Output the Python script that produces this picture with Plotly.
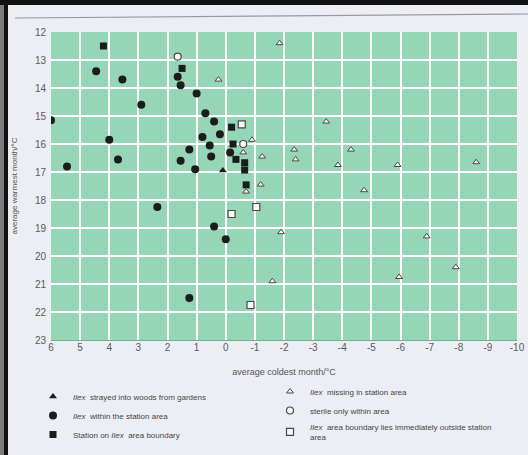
import plotly.graph_objects as go

# ---- data ----
strayed_x = [0.1]
strayed_y = [16.95]

within_x = [4.45, 3.55, 6.0, 2.9, 4.0, 5.45, 3.7, 1.65, 1.55, 1.0, 0.7, 0.4,
            0.2, 0.8, 0.55, 1.25, 0.5, -0.15, 1.55, 1.05, 2.35, 0.4, 0.0, 1.25]
within_y = [13.4, 13.7, 15.15, 14.6, 15.85, 16.8, 16.55, 13.6, 13.9, 14.2, 14.9, 15.2,
            15.65, 15.75, 16.05, 16.2, 16.45, 16.3, 16.6, 16.9, 18.25, 18.95, 19.4, 21.5]

boundary_x = [4.2, 1.5, -0.2, -0.25, -0.35, -0.65, -0.65, -0.7]
boundary_y = [12.5, 13.3, 15.4, 16.0, 16.55, 16.67, 16.93, 17.46]

missing_x = [0.25, -0.9, -1.25, -0.6, -0.7, -1.85, -3.45, -2.35, -2.4, -4.3,
             -3.85, -5.9, -8.6, -1.2, -4.75, -1.9, -6.9, -7.9, -5.95, -1.6]
missing_y = [13.7, 15.85, 16.45, 16.3, 17.7, 12.4, 15.2, 16.2, 16.55, 16.2,
             16.75, 16.75, 16.65, 17.45, 17.65, 19.15, 19.3, 20.4, 20.75, 20.9]

sterile_x = [1.65, -0.6]
sterile_y = [12.88, 16.0]

outside_x = [-0.55, -0.2, -1.05, -0.85]
outside_y = [15.3, 18.5, 18.25, 21.75]

x_ticks = list(range(6, -11, -1))
y_ticks = list(range(12, 24))

FONT = "Liberation Sans, Arial, sans-serif"
DARK = "#1c1c1c"
OUTL = "#4a4a4a"

fig = go.Figure()

# left legend column
fig.add_trace(go.Scatter(x=strayed_x, y=strayed_y, mode="markers",
                         name="<i>Ilex</i>  strayed into woods from gardens",
                         marker=dict(symbol="triangle-up", size=7, color=DARK),
                         legend="legend"))
fig.add_trace(go.Scatter(x=within_x, y=within_y, mode="markers",
                         name="<i>Ilex</i>  within the station area",
                         marker=dict(symbol="circle", size=8, color=DARK),
                         legend="legend"))
fig.add_trace(go.Scatter(x=boundary_x, y=boundary_y, mode="markers",
                         name="Station on <i>Ilex</i>  area boundary",
                         marker=dict(symbol="square", size=7, color=DARK),
                         legend="legend"))
# right legend column
fig.add_trace(go.Scatter(x=missing_x, y=missing_y, mode="markers",
                         name="<i>Ilex</i>  missing in station area",
                         marker=dict(symbol="triangle-up", size=6, color="#f4f4f0",
                                     line=dict(color=OUTL, width=1)),
                         legend="legend2"))
fig.add_trace(go.Scatter(x=sterile_x, y=sterile_y, mode="markers",
                         name="sterile only within area",
                         marker=dict(symbol="circle", size=7, color="#f8f8f6",
                                     line=dict(color=OUTL, width=1.2)),
                         legend="legend2"))
fig.add_trace(go.Scatter(x=outside_x, y=outside_y, mode="markers",
                         name="<i>Ilex</i>  area boundary lies immediately outside station<br>area",
                         marker=dict(symbol="square", size=7, color="#f8f8f6",
                                     line=dict(color=OUTL, width=1.2)),
                         legend="legend2"))

# page decoration (photo frame of the book page)
W, L, R, T, B = 528, 51, 11, 32, 115
pw, ph = W - L - R, 455 - T - B
def px(x):
    return (x - L) / pw
def py(y):
    return (455 - B - y) / ph

shapes = [
    dict(type="rect", xref="paper", yref="paper", x0=px(0), x1=px(4), y0=py(455), y1=py(0),
         fillcolor="#7c7c7c", line=dict(width=0), layer="above"),
    dict(type="rect", xref="paper", yref="paper", x0=px(4), x1=px(8), y0=py(455), y1=py(0),
         fillcolor="#111111", line=dict(width=0), layer="above"),
    dict(type="rect", xref="paper", yref="paper", x0=px(0), x1=px(528), y0=py(5), y1=py(0),
         fillcolor="#111111", line=dict(width=0), layer="above"),
    dict(type="line", xref="paper", yref="paper", x0=px(15), x1=px(528), y0=py(18), y1=py(14),
         line=dict(color="#9a9a9a", width=1.2)),
]

fig.update_layout(
    width=528, height=455,
    margin=dict(l=L, r=R, t=T, b=B, autoexpand=False),
    paper_bgcolor="#edeef4",
    plot_bgcolor="#96d6b7",
    font=dict(family=FONT, color="#555555", size=10),
    shapes=shapes,
    showlegend=True,
    legend=dict(x=px(33), y=py(382), xanchor="left", yanchor="top",
                bgcolor="rgba(0,0,0,0)", font=dict(size=8, color="#444444"),
                itemwidth=30, tracegroupgap=0),
    legend2=dict(x=px(270), y=py(377), xanchor="left", yanchor="top",
                 bgcolor="rgba(0,0,0,0)", font=dict(size=8, color="#444444"),
                 itemwidth=30, tracegroupgap=0),
    xaxis=dict(range=[6, -10], tickvals=x_ticks, ticktext=[str(v) for v in x_ticks],
               showgrid=True, gridcolor="#ffffff", gridwidth=1.6, zeroline=False,
               ticks="", tickfont=dict(size=10, color="#5a5a5a"), ticklabelstandoff=-2,
               showline=True, linecolor="#6fae8f", linewidth=1, mirror=False,
               automargin=False,
               title=dict(text="average coldest month/°C", font=dict(size=9, color="#555555"),
                          standoff=16)),
    yaxis=dict(range=[23, 12], tickvals=y_ticks, ticktext=[str(v) for v in y_ticks],
               showgrid=True, gridcolor="#ffffff", gridwidth=1.6, zeroline=False,
               ticks="", tickfont=dict(size=10, color="#5a5a5a"), ticklabelstandoff=4,
               automargin=False,
               title=dict(text="average warmest month/°C", font=dict(size=8, color="#555555"),
                          standoff=16)),
)

fig.write_html("out.html",
               config={"displayModeBar": False},
               post_script="document.documentElement.style.margin='0';"
                           "document.body.style.margin='0';"
                           "document.body.style.overflow='hidden';")
